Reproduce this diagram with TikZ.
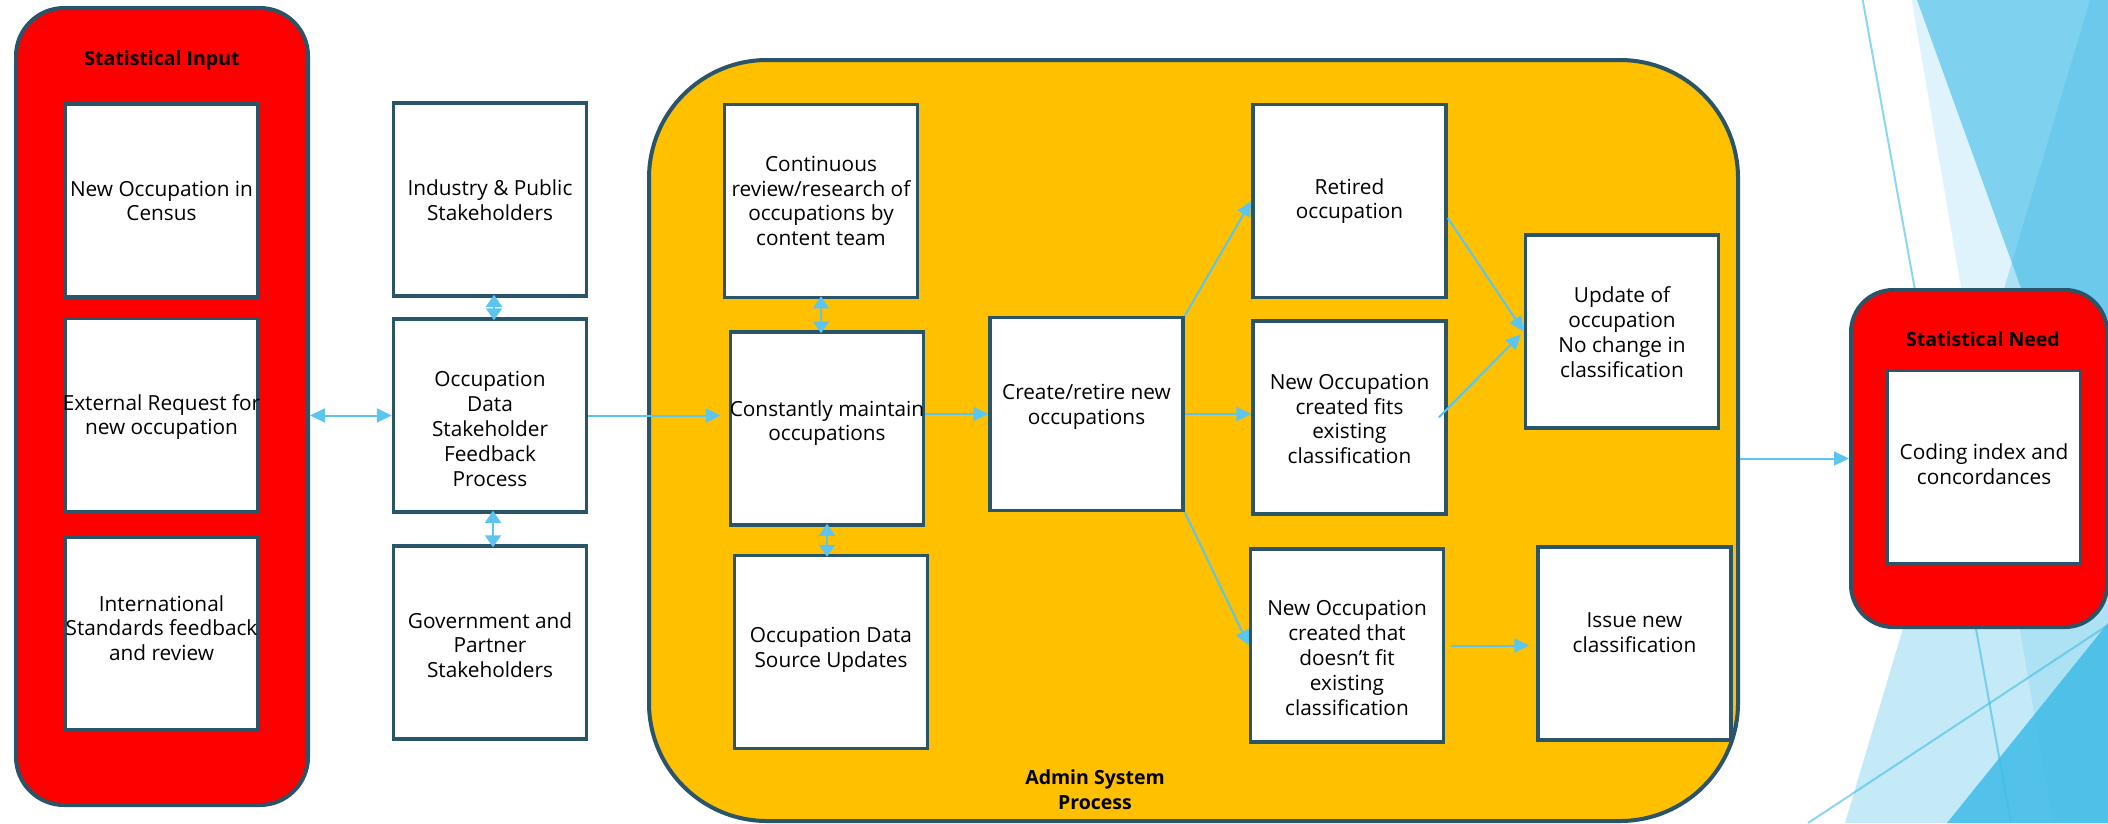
\documentclass[tikz,border=0pt]{standalone}
\usepackage{fontspec}
\setmainfont{Open Sans}
\usetikzlibrary{arrows.meta}
\definecolor{edgec}{HTML}{2A5468}
\definecolor{redc}{HTML}{FF0000}
\definecolor{yelc}{HTML}{FFC000}
\definecolor{arrc}{HTML}{5BC5F0}
\definecolor{facet}{RGB}{65,188,232}
\begin{document}
\begin{tikzpicture}[x=1pt,y=-1pt,
  box/.style={draw=edgec,line width=3.5pt,fill=white,minimum width=193pt,minimum height=193pt,inner sep=0pt},
  container/.style={draw=edgec,line width=4pt},
  txt/.style={align=center,font=\fontsize{20.8}{24.8}\selectfont,inner sep=0pt},
  ttl/.style={align=center,font=\bfseries\fontsize{19.5}{25}\selectfont,inner sep=0pt},
  arr/.style={draw=arrc,line width=2pt,-{Triangle[length=15pt,width=14pt]}},
  darr/.style={draw=arrc,line width=2pt,{Triangle[length=12pt,width=16pt]}-{Triangle[length=12pt,width=16pt]},shorten <=-3pt,shorten >=-3pt},
  darrh/.style={draw=arrc,line width=2pt,{Triangle[length=15pt,width=14pt]}-{Triangle[length=15pt,width=14pt]}},
  bgline/.style={draw=facet,draw opacity=0.6,line width=2pt}]
\useasboundingbox (0,0) rectangle (2108,823);
\fill[white] (0,0) rectangle (2108,823);
% background facets
\begin{scope}
\clip (0,0) rectangle (2108,823);
\fill[facet,fill opacity=0.168] (1911.7,0) -- (2108,0) -- (2108,823) -- (2053,823) -- cycle;
\fill[facet,fill opacity=0.608] (1917,0) -- (2108,0) -- (2108,529) -- cycle;
\fill[facet,fill opacity=0.305] (2090,0) -- (2108,0) -- (2108,823) -- (1845,823) -- cycle;
\fill[facet,fill opacity=0.863] (2108,623) -- (2108,823) -- (1947,823) -- cycle;
\draw[bgline] (1862.7,0) -- (2011,823);
\draw[bgline] (1808,823) -- (2108,625);
\end{scope}
% containers
\node[container,fill=redc,rounded corners=48pt,minimum width=292pt,minimum height=797pt] (input) at (162,406.5) {};
\node[container,fill=yelc,rounded corners=118pt,minimum width=1089pt,minimum height=761pt] (admin) at (1193.5,440.5) {};
\node[container,fill=redc,rounded corners=42pt,minimum width=256pt,minimum height=337pt] (need) at (1979,458.5) {};
\node[ttl] at (162,60) {Statistical Input};
\node[ttl] at (1095,790) {Admin System\\Process};
\node[ttl] at (1983,339) {Statistical Need};
% boxes
\node[box] (b1) at (161.5,200.5) {};
\node[box] (b2) at (161.5,415) {};
\node[box] (b3) at (161.5,633.5) {};
\node[box] (ind) at (490,199.5) {};
\node[box] (occ) at (490,415.5) {};
\node[box] (gov) at (490,642.5) {};
\node[box] (cont) at (821,201) {};
\node[box] (cm) at (827,428.5) {};
\node[box] (src) at (831,652) {};
\node[box] (cr) at (1086.5,414) {};
\node[box] (ret) at (1349.5,201) {};
\node[box] (fits) at (1349.5,417.5) {};
\node[box] (nf) at (1347,645.5) {};
\node[box] (upd) at (1622,331.5) {};
\node[box] (iss) at (1634.5,643.5) {};
\node[box] (code) at (1984,467) {};
% texts
\node[txt] at (161.5,201) {New Occupation in\\Census};
\node[txt] at (161.5,417) {External Request for\\new occupation};
\node[txt] at (161.5,628) {International\\Standards feedback\\and review};
\node[txt] at (490,200) {Industry \& Public\\Stakeholders};
\node[txt] at (490,429) {Occupation\\Data\\Stakeholder\\Feedback\\Process};
\node[txt] at (490,645) {Government and\\Partner\\Stakeholders};
\node[txt] at (821,201) {Continuous\\review/research of\\occupations by\\content team};
\node[txt] at (827,423) {Constantly maintain\\occupations};
\node[txt] at (831,650) {Occupation Data\\Source Updates};
\node[txt] at (1086.5,407) {Create/retire new\\occupations};
\node[txt] at (1349.5,201) {Retired\\occupation};
\node[txt] at (1349.5,419) {New Occupation\\created fits\\existing\\classification};
\node[txt] at (1347,658) {New Occupation\\created that\\doesn’t fit\\existing\\classification};
\node[txt] at (1622,332) {Update of\\occupation\\No change in\\classification};
\node[txt] at (1634.5,633) {Issue new\\classification};
\node[txt] at (1984,464) {Coding index and\\concordances};
% connectors
\draw[darrh] (input.east |- occ.west) -- (occ.west);
\draw[darr] ([xshift=4pt]ind.south) -- ([xshift=4pt]occ.north);
\draw[darr] ([xshift=3pt]occ.south) -- ([xshift=3pt]occ.south |- gov.north);
\draw[arr,shorten >=8pt] (occ.east) -- (occ.east -| cm.west);
\draw[darr] (cont.south) -- (cont.south |- cm.north);
\draw[darr] (cm.south) -- (cm.south |- src.north);
\draw[arr] (cm.east |- cr.west) -- (cr.west);
\draw[arr] (cr.north east) -- (ret.west);
\draw[arr] (cr.east) -- (cr.east -| fits.west);
\draw[arr] (cr.south east) -- (nf.west);
\draw[arr] ([yshift=-17pt]ret.east) -- (upd.west);
\draw[arr,shorten >=4pt] ([xshift=-9pt]fits.east) -- (upd.west);
\draw[arr,shorten >=7pt] ([xshift=6pt]nf.east) -- (nf.east -| iss.west);
\draw[arr] (admin.east |- need.west) -- (need.west);
\end{tikzpicture}
\end{document}
